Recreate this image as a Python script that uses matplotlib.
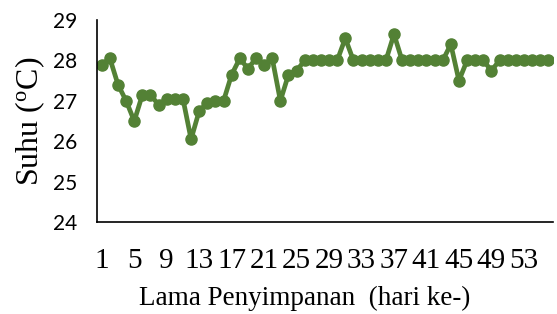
import matplotlib.pyplot as plt

# storage day (1..56) and temperature readings
hari = list(range(1, 57))
suhu = [27.9, 28.05, 27.4, 27.0, 26.5, 27.15, 27.15, 26.9, 27.05, 27.05,
        27.05, 26.05, 26.75, 26.95, 27.0, 27.0, 27.65, 28.05, 27.8, 28.05,
        27.9, 28.05, 27.0, 27.65, 27.75, 28.0, 28.0, 28.0, 28.0, 28.0,
        28.55, 28.0, 28.0, 28.0, 28.0, 28.0, 28.65, 28.0, 28.0, 28.0,
        28.0, 28.0, 28.0, 28.4, 27.5, 28.0, 28.0, 28.0, 27.75, 28.0,
        28.0, 28.0, 28.0, 28.0, 28.0, 28.0]
y_ticks = [24, 25, 26, 27, 28, 29]

plt.rcParams['mathtext.fontset'] = 'custom'
plt.rcParams['mathtext.rm'] = 'Liberation Serif'

fig = plt.figure(figsize=(5.57, 3.14), dpi=100)
ax = fig.add_axes([0.174, 0.293, 0.819, 0.643])

ax.plot(hari, suhu, color='#538135', linewidth=3.4, marker='o',
        markersize=8, solid_capstyle='round')

ax.set_xlim(0.4, 56.6)
ax.set_ylim(24, 29)
ax.set_yticks(y_ticks)
ax.set_xticks(hari[::4])
ax.set_xticklabels([str(h) for h in hari[::4]], family='Liberation Serif', fontsize=21)
ax.set_yticklabels([str(t) for t in y_ticks], family='Lato', fontsize=15)
ax.tick_params(axis='both', length=0)
ax.tick_params(axis='x', pad=19)
ax.tick_params(axis='y', pad=14.5)

for s in ['top', 'right']:
    ax.spines[s].set_visible(False)
for s in ['left', 'bottom']:
    ax.spines[s].set_color('black')
    ax.spines[s].set_linewidth(1.2)

ax.set_xlabel('Lama Penyimpanan  (hari ke-)', family='Liberation Serif', fontsize=19.5)
ax.xaxis.set_label_coords(0.456, -0.315)
ax.set_ylabel(r'Suhu ($\mathregular{^o}$C)', family='Liberation Serif', fontsize=23, labelpad=4)

plt.savefig('out.png', dpi=100)
